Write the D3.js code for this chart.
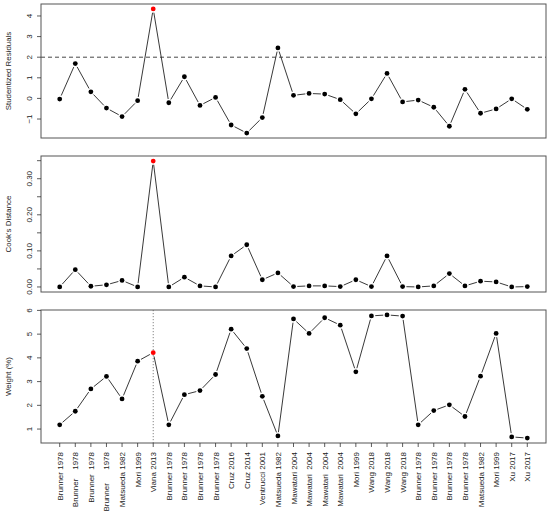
<!DOCTYPE html>
<html>
<head>
<meta charset="utf-8">
<script src="https://cdn.jsdelivr.net/npm/d3@7"></script>
<style>
  body { margin:0; background:#fff; }
  svg text { font-family: "Liberation Sans", Arial, Helvetica, sans-serif; fill:#222; white-space: pre; }
</style>
</head>
<body>
<div id="chart"></div>
<script>
// study labels (spacing as printed on the x axis)
const studies = [
  'Brunner 1978','Brunner    1978','Brunner  1978','Brunner      1978','Matsueda 1982','Mori 1999','Viana 2013',
  'Brunner 1978','Brunner 1978','Brunner 1978','Brunner 1978','Cruz 2016','Cruz 2014','Ventrucci 2001','Matsueda 1982',
  'Mawatari 2004','Mawatari  2004','Mawatari  2004','Mawatari  2004','Mori 1999','Wang 2018','Wang 2018','Wang 2018',
  'Brunner 1978','Brunner 1978','Brunner 1978','Brunner 1978','Matsueda 1982','Mori 1999','Xu 2017','Xu 2017'
];
const rstudent = [-0.03,1.69,0.32,-0.47,-0.88,-0.11,4.34,-0.21,1.05,-0.34,0.05,-1.29,-1.68,-0.93,2.45,
  0.15,0.24,0.21,-0.06,-0.75,-0.02,1.21,-0.17,-0.08,-0.43,-1.35,0.44,-0.72,-0.51,-0.02,-0.53];
const cooksD = [0.000,0.048,0.002,0.006,0.018,0.000,0.349,0.000,0.027,0.003,0.000,0.086,0.117,0.020,0.039,
  0.001,0.003,0.003,0.001,0.020,0.001,0.086,0.001,0.000,0.003,0.037,0.003,0.016,0.014,0.000,0.001];
const weight = [1.18,1.75,2.69,3.22,2.27,3.86,4.22,1.18,2.45,2.62,3.30,5.21,4.39,2.38,0.71,
  5.64,5.03,5.69,5.38,3.41,5.77,5.81,5.76,1.18,1.78,2.02,1.53,3.23,5.03,0.67,0.62];
const outlier = 7; // Viana 2013

const W = 550, H = 513;
const svg = d3.select('#chart').append('svg').attr('width',W).attr('height',H);

const left = 41, right = 546;
const idx = studies.map((d,i)=>i+1);
const x = d3.scaleLinear().domain([1-0.04*30, 31+0.04*30]).range([left, right]);

const panels = [
  {vals: rstudent, top:4, bottom:138, title:'Studentized Residuals', ticks:[-1,0,1,2,3,4], labels:[-1,0,1,2,3,4], fmt:d3.format('d'), hline:2},
  {vals: cooksD, top:156, bottom:292, title:"Cook's Distance", ticks:d3.range(0,0.351,0.05), labels:[0,0.1,0.2,0.3], fmt:d3.format('.2f')},
  {vals: weight, top:310, bottom:443, title:'Weight (%)', ticks:[1,2,3,4,5,6], labels:[1,2,3,4,5,6], fmt:d3.format('d'), vline:outlier}
];

panels.forEach(p=>{
  const ext = d3.extent(p.vals), pad = (ext[1]-ext[0])*0.04;
  const y = d3.scaleLinear().domain([ext[0]-pad, ext[1]+pad]).range([p.bottom, p.top]);
  const g = svg.append('g');

  // reference lines
  if (p.hline !== undefined) {
    g.append('line').attr('x1',left).attr('x2',right).attr('y1',y(p.hline)).attr('y2',y(p.hline))
      .attr('stroke','#333').attr('stroke-width',0.9).attr('stroke-dasharray','4,3');
  }
  if (p.vline !== undefined) {
    g.append('line').attr('x1',x(p.vline)).attr('x2',x(p.vline)).attr('y1',p.top).attr('y2',p.bottom)
      .attr('stroke','#777').attr('stroke-width',0.9).attr('stroke-dasharray','1.2,1.8');
  }

  // lines with gaps around points (type="b")
  const gap = 3.8;
  for (let i=0;i<p.vals.length-1;i++){
    const x0=x(i+1), y0=y(p.vals[i]), x1=x(i+2), y1=y(p.vals[i+1]);
    const dx=x1-x0, dy=y1-y0, len=Math.hypot(dx,dy);
    if (len <= 2*gap) continue;
    const ux=dx/len, uy=dy/len;
    g.append('line').attr('x1',x0+ux*gap).attr('y1',y0+uy*gap).attr('x2',x1-ux*gap).attr('y2',y1-uy*gap)
      .attr('stroke','#222').attr('stroke-width',0.9);
  }

  g.selectAll('circle').data(p.vals).join('circle')
    .attr('cx',(d,i)=>x(i+1)).attr('cy',d=>y(d)).attr('r',2.4)
    .attr('fill',(d,i)=> i+1===outlier ? '#ff0000' : '#000');

  // frame
  g.append('rect').attr('x',left).attr('y',p.top).attr('width',right-left).attr('height',p.bottom-p.top)
    .attr('fill','none').attr('stroke','#555').attr('stroke-width',1);

  // y axis ticks and labels
  g.selectAll('line.yt').data(p.ticks).join('line').attr('class','yt')
    .attr('x1',left-4).attr('x2',left).attr('y1',d=>y(d)).attr('y2',d=>y(d))
    .attr('stroke','#333').attr('stroke-width',0.8);
  g.selectAll('text.yl').data(p.labels).join('text').attr('class','yl')
    .attr('transform',d=>`translate(${left-9},${y(d)}) rotate(-90)`)
    .attr('text-anchor','middle').attr('font-size',8).text(d=>p.fmt(d));
  g.append('text')
    .attr('transform',`translate(${11},${(p.top+p.bottom)/2}) rotate(-90)`)
    .attr('text-anchor','middle').attr('font-size',7.9).text(p.title);
});

// bottom x axis with rotated study labels
const xb = 443;
svg.selectAll('line.xt').data(idx).join('line').attr('class','xt')
  .attr('x1',d=>x(d)).attr('x2',d=>x(d)).attr('y1',xb).attr('y2',xb+4)
  .attr('stroke','#333').attr('stroke-width',0.8);
svg.selectAll('text.xl').data(studies).join('text').attr('class','xl')
  .attr('transform',(d,i)=>`translate(${x(i+1)+3},${xb+9}) rotate(-90)`)
  .attr('text-anchor','end').attr('font-size',8).attr('xml:space','preserve').text(d=>d);
</script>
</body>
</html>
